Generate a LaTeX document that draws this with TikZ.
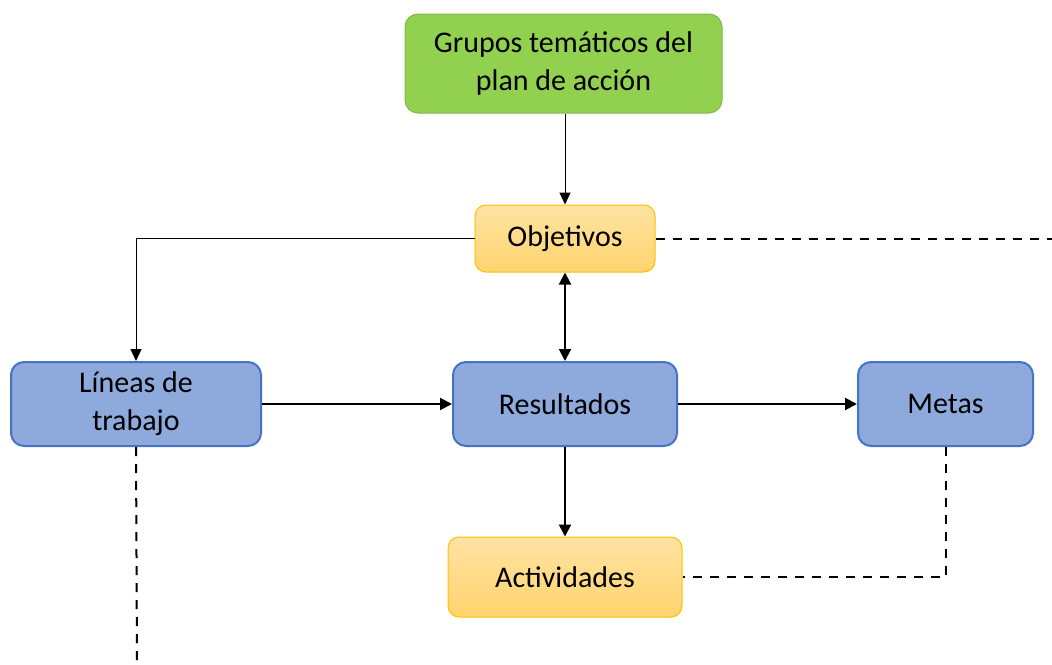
\documentclass[tikz,border=0pt]{standalone}
\usepackage{fontspec}
\setmainfont{Carlito}
\usetikzlibrary{arrows.meta}
\definecolor{gfill}{HTML}{92D050}
\definecolor{gborder}{HTML}{7FB843}
\definecolor{otop}{HTML}{FFE3A3}
\definecolor{obot}{HTML}{FFD46E}
\definecolor{oborder}{HTML}{FFC000}
\definecolor{bfill}{HTML}{8EA9DB}
\definecolor{bborder}{HTML}{4472C4}
\tikzset{
  boxtext/.style={font=\fontsize{30}{38}\selectfont, align=center, text=black, inner sep=0pt},
  greenbox/.style={boxtext, draw=gborder, line width=1pt, fill=gfill, rounded corners=13pt},
  orangebox/.style={boxtext, draw=oborder, line width=1pt, top color=otop, bottom color=obot, rounded corners=11pt},
  bluebox/.style={boxtext, draw=bborder, line width=2pt, fill=bfill, rounded corners=13pt},
  thinarrow/.style={line width=1pt, -{Triangle[length=12pt,width=11pt]}},
  thickarrow/.style={line width=2pt, -{Triangle[length=12pt,width=12pt]}},
  dashline/.style={line width=2pt, dash pattern=on 9pt off 8pt},
}
\begin{document}
\begin{tikzpicture}[x=1pt,y=-1pt]
\useasboundingbox (0,0) rectangle (1052,664);
\node[greenbox, minimum width=317pt, minimum height=99pt] (g) at (563.5,63.5) {Grupos temáticos del\\plan de acción};
\node[orangebox, minimum width=180pt, minimum height=67pt] (o) at (565,238.5) {Objetivos};
\node[bluebox, minimum width=250pt, minimum height=84pt] (l) at (136,404) {Líneas de\\trabajo};
\node[bluebox, minimum width=224pt, minimum height=84pt] (r) at (565,404) {Resultados};
\node[bluebox, minimum width=175pt, minimum height=84pt] (m) at (945.5,404) {Metas};
\node[orangebox, minimum width=234pt, minimum height=80pt] (a) at (565,577) {Actividades};
\coordinate (oe) at (1052,238.5);
\coordinate (le) at (137,664);
\draw[thinarrow] (o.north |- g.south) -- (o.north);
\draw[thinarrow] (o.west) -| (l.north);
\draw[dashline] (o.east) -- (oe);
\draw[line width=2pt, {Triangle[length=12pt,width=12pt]}-{Triangle[length=12pt,width=12pt]}] (o.south) -- (r.north);
\draw[thickarrow] (l.east) -- (r.west);
\draw[thickarrow] (r.east) -- (m.west);
\draw[thickarrow] (r.south) -- (a.north);
\draw[dashline] (l.south) -- (le);
\draw[dashline] (m.south) |- (a.east);
\end{tikzpicture}
\end{document}
